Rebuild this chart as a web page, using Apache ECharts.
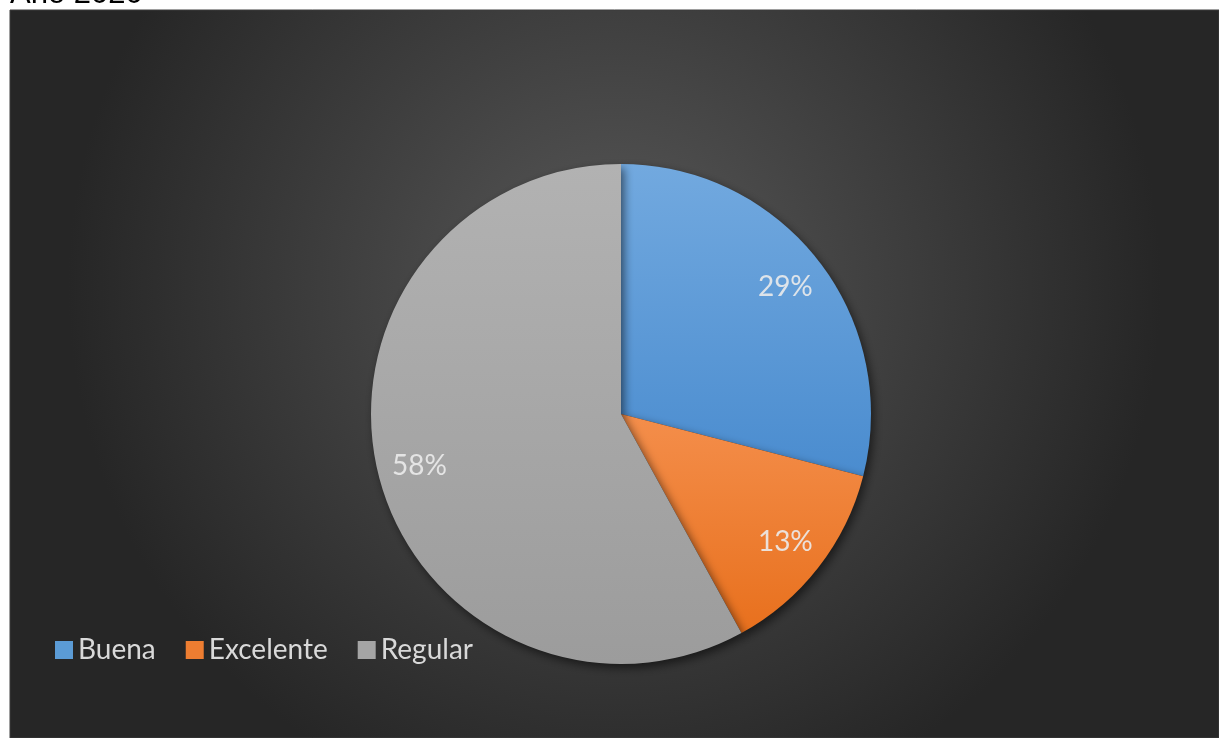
<!DOCTYPE html>
<html>
<head>
<meta charset="utf-8">
<title>Año 2020</title>
<script src="https://cdn.jsdelivr.net/npm/echarts@6/dist/echarts.min.js"></script>
<style>
  html, body { margin: 0; padding: 0; background: #ffffff; }
  #chart { width: 1219px; height: 738px; }
</style>
</head>
<body>
<div id="chart"></div>
<script>
// Rating distribution for the year
const titleText = 'Año 2020';
const categories = ['Buena', 'Excelente', 'Regular'];
const values = [29, 13, 58];

// slice fills: top tone, bottom tone
const sliceColors = [
  ['#72a9df', '#4a8ccf'],
  ['#f48e4b', '#e8701d'],
  ['#b2b2b2', '#9c9c9c']
];

const legendColors = ['#5b9bd5', '#ed7d31', '#a5a5a5'];

function vGrad(top, bottom) {
  return {
    type: 'linear', x: 0, y: 0, x2: 0, y2: 1,
    colorStops: [{ offset: 0, color: top }, { offset: 1, color: bottom }]
  };
}

const pieData = categories.map((name, i) => ({
  name: name,
  value: values[i],
  itemStyle: { color: vGrad(sliceColors[i][0], sliceColors[i][1]) }
}));

const labelData = categories.map((name, i) => ({
  name: name,
  value: values[i],
  itemStyle: { color: 'rgba(0,0,0,0)' }
}));

const chart = echarts.init(document.getElementById('chart'));

chart.setOption({
  backgroundColor: '#ffffff',
  animation: false,
  color: legendColors,
  graphic: [
    {
      type: 'rect',
      z: -10,
      shape: { x: 10, y: 10, width: 1209, height: 728 },
      style: {
        fill: {
          type: 'radial', x: 0.5, y: 0.38, r: 0.75,
          colorStops: [
            { offset: 0, color: '#585858' },
            { offset: 1, color: '#262626' }
          ]
        },
        stroke: '#3c3c3c',
        lineWidth: 1
      },
      silent: true
    },
    {
      type: 'text',
      z: 10,
      style: {
        x: 10,
        y: -6,
        text: titleText,
        font: '31px "Liberation Sans", Arial, sans-serif',
        fill: '#000000',
        verticalAlign: 'middle'
      },
      silent: true
    }
  ],
  legend: {
    data: categories.map((name, i) => ({ name: name, itemStyle: { color: legendColors[i] } })),
    left: 50,
    top: 631,
    orient: 'horizontal',
    icon: 'rect',
    itemWidth: 18,
    itemHeight: 18,
    itemGap: 30,
    textStyle: {
      color: '#d9d9d9',
      fontSize: 28,
      fontFamily: 'Lato, "Noto Sans", sans-serif'
    }
  },
  series: [
    {
      type: 'pie',
      center: [621, 414],
      radius: 250,
      startAngle: 90,
      clockwise: true,
      label: { show: false },
      labelLine: { show: false },
      emphasis: { disabled: true },
      itemStyle: {
        shadowBlur: 10,
        shadowOffsetX: 3,
        shadowOffsetY: 4,
        shadowColor: 'rgba(0,0,0,0.55)',
        borderWidth: 0
      },
      data: pieData
    },
    {
      type: 'pie',
      center: [621, 414],
      radius: [160, 250],
      startAngle: 90,
      clockwise: true,
      silent: true,
      legendHoverLink: false,
      emphasis: { disabled: true },
      itemStyle: { borderWidth: 0 },
      label: {
        show: true,
        position: 'inside',
        formatter: '{d}%',
        color: 'rgba(235,235,235,0.9)',
        fontSize: 28,
        fontFamily: 'Lato, "Noto Sans", sans-serif'
      },
      labelLine: { show: false },
      data: labelData
    }
  ]
});
</script>
</body>
</html>
